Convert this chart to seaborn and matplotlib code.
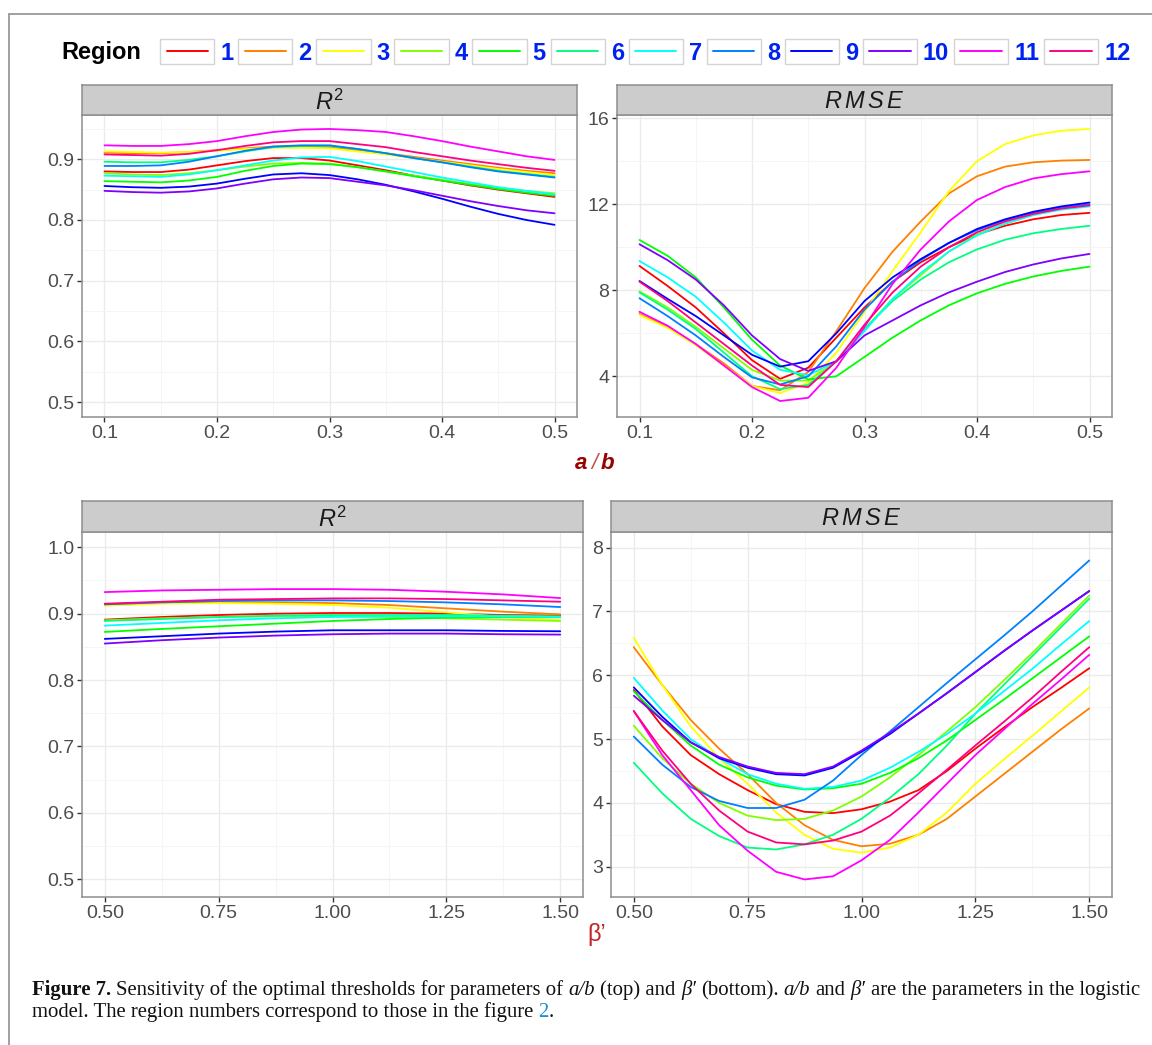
"""
Sensitivity of the optimal thresholds for a/b and beta' (Figure 7), redrawn with seaborn
"""

import pandas as pd
import matplotlib

matplotlib.use("Agg")
import matplotlib.pyplot as plt
import seaborn as sns
from matplotlib.lines import Line2D
from matplotlib.patches import Rectangle
from matplotlib.legend_handler import HandlerBase

sns.set_theme(style="white")
plt.rcParams["font.family"] = ["Liberation Sans", "DejaVu Sans"]
plt.rcParams["mathtext.fontset"] = "custom"
plt.rcParams["mathtext.it"] = "Liberation Sans:italic"
plt.rcParams["mathtext.rm"] = "Liberation Sans"

W, H = 1152, 1045

REGIONS = [str(i) for i in range(1, 13)]
RAINBOW = ["#FF0000", "#FF8000", "#FFFF00", "#80FF00", "#00FF00", "#00FF80",
           "#00FFFF", "#0080FF", "#0000FF", "#8000FF", "#FF00FF", "#FF0080"]

# %% values, one row per region (1..12)
AB_X = [0.1, 0.125, 0.15, 0.175, 0.2, 0.225, 0.25, 0.275, 0.3,
        0.325, 0.35, 0.375, 0.4, 0.425, 0.45, 0.475, 0.5]
r2_ab = [
    [0.880, 0.879, 0.879, 0.883, 0.890, 0.897, 0.902, 0.902, 0.898, 0.890, 0.882, 0.873, 0.865, 0.857, 0.850, 0.844, 0.838],
    [0.911, 0.910, 0.910, 0.912, 0.915, 0.918, 0.921, 0.921, 0.920, 0.915, 0.910, 0.904, 0.898, 0.892, 0.886, 0.881, 0.877],
    [0.913, 0.912, 0.911, 0.912, 0.914, 0.917, 0.919, 0.919, 0.918, 0.913, 0.908, 0.902, 0.896, 0.890, 0.884, 0.879, 0.874],
    [0.877, 0.875, 0.874, 0.877, 0.882, 0.888, 0.893, 0.894, 0.893, 0.887, 0.880, 0.873, 0.866, 0.859, 0.853, 0.848, 0.844],
    [0.864, 0.863, 0.862, 0.865, 0.871, 0.881, 0.889, 0.893, 0.892, 0.887, 0.880, 0.872, 0.865, 0.858, 0.851, 0.845, 0.840],
    [0.896, 0.895, 0.895, 0.899, 0.905, 0.913, 0.920, 0.922, 0.922, 0.917, 0.910, 0.902, 0.895, 0.888, 0.881, 0.876, 0.871],
    [0.873, 0.872, 0.871, 0.875, 0.882, 0.890, 0.898, 0.903, 0.904, 0.897, 0.888, 0.879, 0.870, 0.862, 0.854, 0.848, 0.842],
    [0.889, 0.889, 0.890, 0.896, 0.905, 0.914, 0.921, 0.923, 0.923, 0.917, 0.910, 0.902, 0.895, 0.887, 0.880, 0.875, 0.870],
    [0.856, 0.854, 0.853, 0.855, 0.860, 0.868, 0.875, 0.877, 0.874, 0.867, 0.858, 0.847, 0.835, 0.822, 0.810, 0.800, 0.792],
    [0.848, 0.846, 0.845, 0.847, 0.852, 0.860, 0.867, 0.870, 0.869, 0.863, 0.857, 0.849, 0.840, 0.831, 0.823, 0.816, 0.811],
    [0.923, 0.922, 0.922, 0.925, 0.930, 0.938, 0.945, 0.949, 0.950, 0.948, 0.945, 0.938, 0.930, 0.921, 0.913, 0.905, 0.899],
    [0.908, 0.907, 0.906, 0.909, 0.915, 0.922, 0.928, 0.930, 0.930, 0.925, 0.920, 0.912, 0.905, 0.898, 0.892, 0.886, 0.881],
]
rmse_ab = [
    [9.13, 8.20, 7.20, 6.00, 4.75, 3.88, 4.40, 5.80, 7.20, 8.40, 9.30, 10.00, 10.60, 11.00, 11.30, 11.50, 11.60],
    [6.90, 6.30, 5.50, 4.60, 3.55, 3.35, 4.20, 6.10, 8.10, 9.80, 11.20, 12.50, 13.30, 13.75, 13.95, 14.03, 14.06],
    [6.85, 6.25, 5.45, 4.50, 3.55, 3.22, 3.70, 5.10, 7.00, 8.90, 10.70, 12.60, 14.00, 14.80, 15.20, 15.42, 15.50],
    [7.95, 7.20, 6.30, 5.30, 4.30, 3.80, 3.80, 4.70, 6.20, 7.60, 8.70, 9.80, 10.60, 11.10, 11.50, 11.80, 11.95],
    [10.34, 9.60, 8.60, 7.20, 5.70, 4.50, 3.85, 4.00, 4.90, 5.80, 6.60, 7.30, 7.86, 8.30, 8.64, 8.90, 9.10],
    [7.90, 7.10, 6.20, 5.10, 4.00, 3.40, 3.60, 4.70, 6.20, 7.50, 8.50, 9.30, 9.90, 10.35, 10.65, 10.85, 11.00],
    [9.36, 8.60, 7.70, 6.50, 5.20, 4.30, 4.05, 4.70, 6.10, 7.60, 8.80, 9.80, 10.55, 11.10, 11.50, 11.75, 11.90],
    [7.63, 6.80, 5.90, 4.90, 3.95, 3.62, 4.00, 5.40, 7.10, 8.40, 9.40, 10.20, 10.80, 11.25, 11.60, 11.85, 12.00],
    [8.43, 7.60, 6.80, 5.90, 5.00, 4.45, 4.70, 6.00, 7.50, 8.60, 9.45, 10.20, 10.85, 11.30, 11.65, 11.90, 12.08],
    [10.14, 9.40, 8.50, 7.30, 5.90, 4.80, 4.25, 4.70, 5.90, 6.60, 7.30, 7.90, 8.40, 8.85, 9.20, 9.48, 9.69],
    [7.00, 6.35, 5.50, 4.50, 3.50, 2.85, 3.00, 4.40, 6.30, 8.30, 9.90, 11.20, 12.20, 12.80, 13.20, 13.40, 13.53],
    [8.40, 7.50, 6.50, 5.50, 4.50, 3.60, 3.50, 4.70, 6.40, 7.90, 9.10, 10.00, 10.70, 11.20, 11.55, 11.80, 11.95],
]

BETA_X = [0.5, 0.625, 0.75, 0.875, 1.0, 1.125, 1.25, 1.375, 1.5]
r2_beta = [
    [0.891, 0.895, 0.898, 0.900, 0.901, 0.901, 0.900, 0.898, 0.897],
    [0.913, 0.916, 0.917, 0.917, 0.916, 0.913, 0.908, 0.903, 0.899],
    [0.912, 0.915, 0.916, 0.915, 0.913, 0.909, 0.902, 0.895, 0.890],
    [0.890, 0.893, 0.895, 0.896, 0.896, 0.895, 0.893, 0.891, 0.889],
    [0.8725, 0.877, 0.881, 0.885, 0.889, 0.892, 0.894, 0.895, 0.8945],
    [0.889, 0.892, 0.895, 0.897, 0.898, 0.898, 0.898, 0.897, 0.896],
    [0.882, 0.886, 0.890, 0.893, 0.895, 0.896, 0.896, 0.896, 0.895],
    [0.914, 0.917, 0.919, 0.920, 0.920, 0.919, 0.917, 0.914, 0.910],
    [0.862, 0.866, 0.870, 0.873, 0.875, 0.875, 0.875, 0.874, 0.8735],
    [0.855, 0.860, 0.864, 0.867, 0.869, 0.870, 0.870, 0.869, 0.8685],
    [0.9325, 0.935, 0.936, 0.937, 0.937, 0.936, 0.933, 0.929, 0.9235],
    [0.915, 0.918, 0.921, 0.922, 0.923, 0.923, 0.922, 0.920, 0.918],
]

BETA_X_RMSE = [0.5, 0.5625, 0.625, 0.6875, 0.75, 0.8125, 0.875, 0.9375, 1.0,
               1.0625, 1.125, 1.1875, 1.25, 1.3125, 1.375, 1.4375, 1.5]
rmse_beta = [
    [5.77, 5.20, 4.75, 4.45, 4.20, 3.98, 3.86, 3.84, 3.90, 4.02, 4.20, 4.50, 4.85, 5.18, 5.50, 5.80, 6.11],
    [6.44, 5.85, 5.30, 4.85, 4.45, 4.00, 3.65, 3.42, 3.32, 3.36, 3.50, 3.75, 4.10, 4.45, 4.80, 5.15, 5.48],
    [6.59, 5.85, 5.20, 4.70, 4.30, 3.85, 3.50, 3.28, 3.22, 3.30, 3.50, 3.85, 4.30, 4.68, 5.05, 5.43, 5.81],
    [5.21, 4.70, 4.30, 4.00, 3.80, 3.73, 3.75, 3.88, 4.10, 4.40, 4.75, 5.12, 5.50, 5.92, 6.35, 6.80, 7.25],
    [5.75, 5.30, 4.90, 4.60, 4.40, 4.27, 4.21, 4.23, 4.30, 4.47, 4.70, 4.98, 5.30, 5.62, 5.95, 6.28, 6.61],
    [4.63, 4.15, 3.75, 3.48, 3.30, 3.27, 3.35, 3.50, 3.75, 4.08, 4.45, 4.90, 5.40, 5.85, 6.30, 6.75, 7.20],
    [5.96, 5.45, 5.00, 4.70, 4.45, 4.30, 4.22, 4.25, 4.35, 4.55, 4.80, 5.08, 5.40, 5.75, 6.10, 6.48, 6.85],
    [5.04, 4.60, 4.25, 4.03, 3.92, 3.92, 4.05, 4.35, 4.75, 5.12, 5.50, 5.88, 6.25, 6.62, 7.00, 7.40, 7.80],
    [5.81, 5.35, 4.95, 4.70, 4.55, 4.45, 4.43, 4.55, 4.80, 5.08, 5.40, 5.72, 6.05, 6.38, 6.70, 7.01, 7.32],
    [5.68, 5.30, 4.95, 4.72, 4.57, 4.47, 4.45, 4.57, 4.82, 5.10, 5.40, 5.72, 6.05, 6.38, 6.70, 7.01, 7.32],
    [5.44, 4.75, 4.20, 3.65, 3.25, 2.92, 2.80, 2.85, 3.10, 3.42, 3.85, 4.30, 4.75, 5.15, 5.55, 5.93, 6.32],
    [5.44, 4.82, 4.30, 3.88, 3.55, 3.38, 3.35, 3.41, 3.55, 3.80, 4.15, 4.52, 4.90, 5.27, 5.65, 6.05, 6.44],
]

# tick labels
AB_TICKS = ["0.1", "0.2", "0.3", "0.4", "0.5"]
BETA_TICKS = ["0.50", "0.75", "1.00", "1.25", "1.50"]
R2_AB_TICKS = ["0.5", "0.6", "0.7", "0.8", "0.9"]
RMSE_AB_TICKS = ["4", "8", "12", "16"]
R2_BETA_TICKS = ["0.5", "0.6", "0.7", "0.8", "0.9", "1.0"]
RMSE_BETA_TICKS = ["3", "4", "5", "6", "7", "8"]


def long_frame(x, rows):
    recs = [(xi, REGIONS[i], v) for i, row in enumerate(rows) for xi, v in zip(x, row)]
    return pd.DataFrame(recs, columns=["x", "Region", "value"])


def mids(vals):
    return [(a + b) / 2 for a, b in zip(vals[:-1], vals[1:])]


fig = plt.figure(figsize=(W / 100, H / 100), dpi=100)
BORDER = "#8e8e8e"


def panel(px, title, df, xlim, ylim, xlabels, ylabels):
    x0, y0, x1, y1, strip_top = px
    ax = fig.add_axes([x0 / W, 1 - y1 / H, (x1 - x0) / W, (y1 - y0) / H])
    sns.lineplot(data=df, x="x", y="value", hue="Region", hue_order=REGIONS,
                 palette=RAINBOW, estimator=None, lw=1.3, legend=False, ax=ax)
    xt = [float(t) for t in xlabels]
    yt = [float(t) for t in ylabels]
    ax.set_xticks(xt, labels=xlabels)
    ax.set_yticks(yt, labels=ylabels)
    step = yt[1] - yt[0]
    ax.set_xticks(mids(xt), minor=True)
    ax.set_yticks(mids(yt) + [yt[-1] + step / 2, yt[0] - step / 2], minor=True)
    ax.set_xlim(*xlim)
    ax.set_ylim(*ylim)
    ax.set_axisbelow(True)
    ax.grid(which="major", color="#ebebeb", lw=1.0)
    ax.grid(which="minor", color="#f5f5f5", lw=0.7)
    ax.tick_params(which="minor", length=0)
    ax.tick_params(which="major", length=3.5, width=1.0, color="#333333",
                   labelsize=14, labelcolor="#4d4d4d", pad=2, bottom=True, left=True)
    for s in ax.spines.values():
        s.set_color(BORDER)
        s.set_linewidth(1.1)
    ax.set_xlabel("")
    ax.set_ylabel("")

    st = fig.add_axes([x0 / W, 1 - y0 / H, (x1 - x0) / W, (y0 - strip_top) / H])
    st.set_facecolor("#cccccc")
    st.set_xticks([])
    st.set_yticks([])
    for s in st.spines.values():
        s.set_color(BORDER)
        s.set_linewidth(1.1)
    st.text(0.5, 0.42, title, ha="center", va="center", fontsize=17, color="#1a1a1a",
            transform=st.transAxes)
    return ax


panel((82, 115, 577, 417, 85), "$R^2$", long_frame(AB_X, r2_ab),
      (0.08, 0.52), (0.4753, 0.973), AB_TICKS, R2_AB_TICKS)
panel((617, 115, 1112, 417, 85), r"$R\,M\,S\,E$", long_frame(AB_X, rmse_ab),
      (0.08, 0.52), (2.107, 16.15), AB_TICKS, RMSE_AB_TICKS)
panel((82, 532, 583, 897, 501), "$R^2$", long_frame(BETA_X, r2_beta),
      (0.45, 1.55), (0.4733, 1.023), BETA_TICKS, R2_BETA_TICKS)
panel((611, 532, 1112, 897, 501), r"$R\,M\,S\,E$", long_frame(BETA_X_RMSE, rmse_beta),
      (0.45, 1.55), (2.525, 8.246), BETA_TICKS, RMSE_BETA_TICKS)

# shared x titles
fig.text(587 / W, 1 - 469 / H, "a", ha="right", va="baseline", fontsize=16,
         weight="bold", style="italic", color="#990000")
fig.text(594.5 / W, 1 - 469 / H, "/", ha="center", va="baseline", fontsize=16,
         style="italic", color="#c05050")
fig.text(601 / W, 1 - 469 / H, "b", ha="left", va="baseline", fontsize=16,
         weight="bold", style="italic", color="#990000")
fig.text(597 / W, 1 - 941 / H, "β’", ha="center", va="baseline", fontsize=17,
         color="#c0282d")


# legend: boxed keys in a single row
class BoxedLine(HandlerBase):
    def create_artists(self, legend, orig_handle, xdescent, ydescent, width, height,
                       fontsize, trans):
        rect = Rectangle((-xdescent, -ydescent - 0.2 * height), width, 1.4 * height,
                         fc="white", ec="#d4d4d4", lw=1.0, transform=trans)
        ln = Line2D([-xdescent + 0.12 * width, -xdescent + 0.88 * width],
                    [height / 2 - ydescent] * 2, color=orig_handle.get_color(),
                    lw=1.4, transform=trans)
        return [rect, ln]


handles = [Line2D([], [], color=c) for c in RAINBOW]
fig.text(61 / W, 1 - 53 / H, "Region", ha="left", va="center", fontsize=17,
         weight="bold", color="black")
leg = fig.legend(handles, REGIONS, handler_map={Line2D: BoxedLine()}, ncol=12,
                 loc="center left", bbox_to_anchor=(160 / W, 1 - 53 / H),
                 frameon=False, prop={"family": "Liberation Sans", "weight": "bold", "size": 17},
                 handlelength=2.3, handleheight=0.8, handletextpad=0.25,
                 columnspacing=0.2, borderpad=0, borderaxespad=0)
for t in leg.get_texts():
    t.set_color("#0022ee")

# page frame
fig.add_artist(Line2D([9 / W, 9 / W], [0, 1 - 14 / H], transform=fig.transFigure,
                      color="#999999", lw=1.3))
fig.add_artist(Line2D([9 / W, 1], [1 - 14 / H, 1 - 14 / H], transform=fig.transFigure,
                      color="#999999", lw=1.3))

# caption, written run by run
renderer = fig.canvas.get_renderer()
SERIF = "Liberation Serif"
line1 = [("Figure 7.", {"weight": "bold"}), ("Sensitivity of the optimal thresholds for parameters of", {}),
         ("a/b", {"style": "italic"}), ("(top) and", {}), ("β′", {"style": "italic"}),
         ("(bottom).", {}), ("a/b", {"style": "italic"}), ("and", {}), ("β′", {"style": "italic"}),
         ("are the parameters in the logistic", {})]
line2 = [("model. The region numbers correspond to those in the figure", {}),
         ("2", {"color": "#1b8fd2"}), (".", {"nospace": True})]


def run_width(runs, size):
    total = 0
    for s, kw in runs:
        kw = {k: v for k, v in kw.items() if k != "nospace"}
        t = fig.text(0, 0, s, fontsize=size, family=SERIF, **kw)
        total += t.get_window_extent(renderer).width
        t.remove()
    t = fig.text(0, 0, "x x", fontsize=size, family=SERIF)
    a = t.get_window_extent(renderer).width
    t.remove()
    t = fig.text(0, 0, "xx", fontsize=size, family=SERIF)
    sp = a - t.get_window_extent(renderer).width
    t.remove()
    return total, sp


def write_runs(runs, x0, y0, size, sp):
    x = x0
    for i, (s, kw) in enumerate(runs):
        nospace = kw.get("nospace", False)
        kw = {k: v for k, v in kw.items() if k != "nospace"}
        if i > 0 and not nospace:
            x += sp
        t = fig.text(x / W, 1 - y0 / H, s, fontsize=size, family=SERIF, ha="left",
                     va="baseline", color=kw.pop("color", "#111111"), **kw)
        x += t.get_window_extent(renderer).width


w0, sp0 = run_width(line1, 13)
size = 13 * (1103 - sp0 * (len(line1) - 1)) / w0
_, sp = run_width(line1, size)
write_runs(line1, 32, 995, size, sp)
write_runs(line2, 32, 1017, size, sp)

fig.savefig("out.png", dpi=100)
